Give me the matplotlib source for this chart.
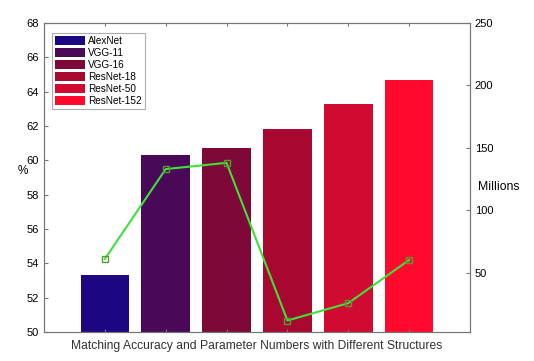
import numpy as np
import matplotlib.pyplot as plt

# ---------- data ----------
models = ["AlexNet", "VGG-11", "VGG-16", "ResNet-18", "ResNet-50", "ResNet-152"]
accuracy = [53.3, 60.3, 60.7, 61.8, 63.3, 64.7]      # %
params = [61.0, 133.0, 138.0, 11.7, 25.6, 60.2]      # millions
bar_colors = ["#1c0682", "#4a0858", "#7e0838", "#a80830", "#d00a30", "#ff0a2c"]

plt.rcParams["font.family"] = ["Liberation Sans", "DejaVu Sans"]
plt.rcParams["font.size"] = 8
axis_grey = "#777777"

fig = plt.figure(figsize=(5.34, 3.61), dpi=100)
ax = fig.add_axes([44 / 534, 1 - 332 / 361, 426 / 534, 309 / 361])

x = np.arange(1, len(models) + 1)
bars = ax.bar(x, accuracy, width=0.8, color=bar_colors, edgecolor="none")
for b, name in zip(bars, models):
    b.set_label(name)

ax.set_xlim(0, 7)
ax.set_ylim(50, 68)
ax.set_yticks(np.arange(50, 69, 2))
ax.set_xticks(x)
ax.set_xticklabels([])
ax.tick_params(direction="in", length=3, color=axis_grey, labelsize=8, top=True)
ax.tick_params(axis="x", length=2)
for s in ax.spines.values():
    s.set_color(axis_grey)
ax.set_xlabel("Matching Accuracy and Parameter Numbers with Different Structures",
              fontsize=8.7, color="#333333", labelpad=2)
ax.set_ylabel("%", rotation=0, fontsize=8.5)
ax.yaxis.set_label_coords(-0.05, 0.5)

# ---------- parameter line on right axis ----------
ax2 = ax.twinx()
ax2.plot(x, params, color="#3ee03a", lw=1.5, marker="s", ms=5,
         mfc="none", mec="#5a9a30", mew=1.0)
ax2.set_ylim(2.5, 250)
ax2.set_yticks([50, 100, 150, 200, 250])
ax2.tick_params(direction="in", length=3, color=axis_grey, labelsize=8)
for s in ax2.spines.values():
    s.set_color(axis_grey)
ax2.set_ylabel("Millions", rotation=0, fontsize=8.8)
ax2.yaxis.set_label_coords(1.067, 0.49)

leg = ax.legend(loc="upper left", bbox_to_anchor=(0.015, 0.975), fontsize=7.2,
                frameon=True, fancybox=False, edgecolor="#999999",
                handlelength=3.0, handleheight=1.0, handletextpad=0.3,
                labelspacing=0.2, borderpad=0.3, borderaxespad=0.2)
leg.get_frame().set_linewidth(0.8)

fig.savefig("out.png", dpi=100)
